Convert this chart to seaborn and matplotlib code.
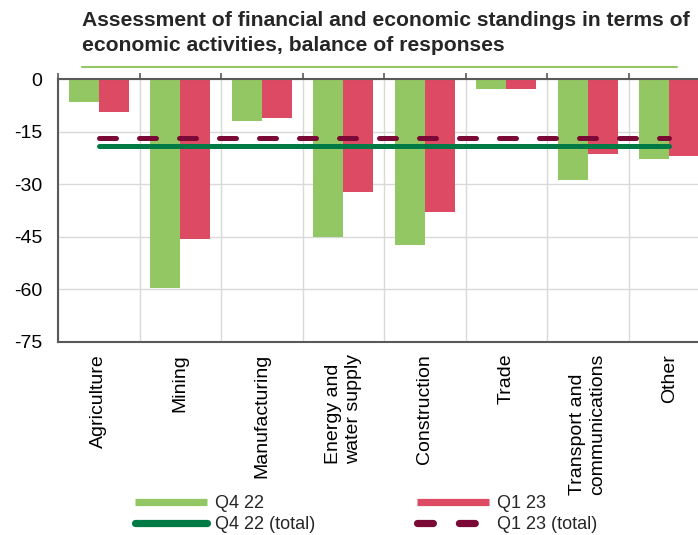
import numpy as np
import pandas as pd
import matplotlib
matplotlib.use("Agg")
import matplotlib.pyplot as plt
from matplotlib.lines import Line2D
from matplotlib.ticker import FixedLocator
import seaborn as sns

# ---- data ----
categories = ["Agriculture", "Mining", "Manufacturing", "Energy and\nwater supply",
              "Construction", "Trade", "Transport and\ncommunications", "Other"]
q4_22 = [-6.5, -59.5, -12.1, -45.0, -47.2, -2.9, -28.8, -22.7]
q1_23 = [-9.5, -45.5, -11.2, -32.3, -38.0, -2.9, -21.4, -22.0]
q4_22_total = -19.2
q1_23_total = -16.8
series_names = ["Q4 22", "Q1 23"]
total_names = ["Q4 22 (total)", "Q1 23 (total)"]
y_ticks = [0, -15, -30, -45, -60, -75]
title = "Assessment of financial and economic standings in terms of\neconomic activities, balance of responses"

# ---- style ----
sns.set_style("white")
plt.rcParams["font.family"] = ["Liberation Sans", "DejaVu Sans"]
plt.rcParams["axes.unicode_minus"] = False

GREEN = "#93C763"
RED = "#DC4A63"
DGREEN = "#007A45"
DRED = "#7A0A35"
SPINE = "#595959"
GRID = "#D9D9D9"

df = pd.DataFrame({
    "category": categories * 2,
    "value": q4_22 + q1_23,
    "series": [series_names[0]] * len(categories) + [series_names[1]] * len(categories),
})

W, H = 698, 535
fig = plt.figure(figsize=(W / 100, H / 100), dpi=100)
ax = fig.add_axes([58 / W, 1 - 342 / H, (710 - 58) / W, (342 - 79) / H])

sns.barplot(data=df, x="category", y="value", hue="series", order=categories,
            hue_order=series_names, palette=[GREEN, RED], saturation=1,
            width=0.74, gap=0, legend=False, ax=ax, zorder=2, linewidth=0)

pos = np.arange(len(categories))
lw_px = 5
ax.plot(pos, np.full(len(categories), q1_23_total), color=DRED, lw=lw_px * 0.72,
        dashes=(3.4, 4.6), dash_capstyle="round", zorder=3)
ax.plot(pos, np.full(len(categories), q4_22_total), color=DGREEN, lw=lw_px * 0.72,
        solid_capstyle="round", zorder=3)

ax.set_xlim(-0.5, len(categories) - 0.5)
ax.set_ylim(min(y_ticks), max(y_ticks))
ax.set_yticks(y_ticks)
ax.set_yticklabels([str(t) for t in y_ticks])
ax.set_xticks(pos)
ax.set_xticklabels(categories, rotation=90, ha="center", va="top", multialignment="left")
ax.set_xlabel("")
ax.set_ylabel("")

ax.xaxis.set_minor_locator(FixedLocator(np.arange(len(categories) + 1) - 0.5))
ax.tick_params(axis="y", which="major", length=0, labelsize=14, pad=11.5, colors="black")
ax.tick_params(axis="x", which="major", length=0, labelsize=14, pad=8.5, colors="black")
ax.tick_params(axis="x", which="minor", top=True, bottom=False, direction="out",
               length=4.3, width=1.2, color=SPINE)

ax.grid(axis="y", which="major", color=GRID, lw=1.0, zorder=0)
ax.grid(axis="x", which="minor", color=GRID, lw=1.0, zorder=0)
ax.set_axisbelow(True)

for side in ["left", "bottom", "top"]:
    ax.spines[side].set_visible(True)
    ax.spines[side].set_color(SPINE)
    ax.spines[side].set_linewidth(1.5)
ax.spines["right"].set_visible(False)
ax.spines["top"].set_zorder(5)

# title and decorative rule
fig.text(82 / W, 1 - 11 / H, title, ha="left", va="top", fontsize=15.2,
         fontweight="bold", linespacing=1.38)
fig.add_artist(Line2D([82 / W, 677 / W], [1 - 67 / H, 1 - 67 / H],
                      color=GREEN, lw=1.5, transform=fig.transFigure))

# legend
handles = [
    Line2D([], [], color=GREEN, lw=5.2, solid_capstyle="butt"),
    Line2D([], [], color=DGREEN, lw=5.2, solid_capstyle="round"),
    Line2D([], [], color=RED, lw=5.2, solid_capstyle="butt"),
    Line2D([], [], color=DRED, lw=5.2, dashes=(2.2, 3.6), dash_capstyle="round"),
]
labels = [series_names[0], total_names[0], series_names[1], total_names[1]]
fig.legend(handles, labels, ncol=2, loc="upper left",
           bbox_to_anchor=(135 / W, 1 - 495 / H), frameon=False, fontsize=13,
           handlelength=4.0, handletextpad=0.45, columnspacing=5.6,
           labelspacing=0.22, borderpad=0, borderaxespad=0)

fig.savefig("out.png", dpi=100)
